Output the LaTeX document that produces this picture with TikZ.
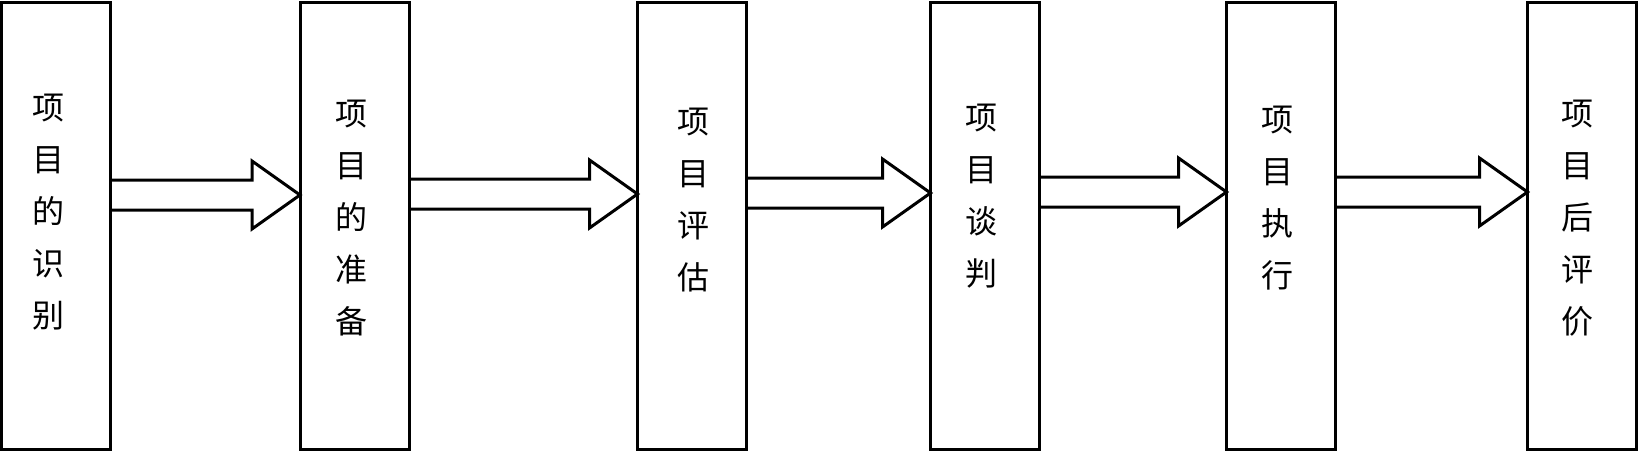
\documentclass[tikz,border=0pt]{standalone}
\usepackage{fontspec}
\newfontfamily\cjk{Noto Sans CJK SC}
\usetikzlibrary{calc}
\tikzset{
  stagebox/.style={draw=black, line width=3pt, outer sep=0pt, inner sep=0pt,
    minimum width=109pt, minimum height=446pt},
  vtext/.style={align=center, inner sep=0pt, font=\cjk\fontsize{32}{52}\selectfont},
  fatarrow/.style={draw=black, line width=3pt, line join=miter}
}
\newcommand{\fatarrowpath}[4]{% from node, to node, y, name
  \path (#1.east |- 0,#3) coordinate (#4s) (#2.west |- 0,#3) coordinate (#4e);
  \draw[fatarrow] ($(#4s)+(0,15)$) -- ($(#4e)+(-48,15)$) -- ($(#4e)+(-48,34)$) -- (#4e)
    -- ($(#4e)+(-48,-34)$) -- ($(#4e)+(-48,-15)$) -- ($(#4s)+(0,-15)$);
}
\begin{document}
\begin{tikzpicture}[x=1pt,y=1pt]
\useasboundingbox (0,0) rectangle (1641,-452);
\node[stagebox] (b1) at (56.25,-226) {};
\node[stagebox] (b2) at (354.5,-226) {};
\node[stagebox] (b3) at (692,-226) {};
\node[stagebox] (b4) at (985,-226) {};
\node[stagebox] (b5) at (1281,-226) {};
\node[stagebox] (b6) at (1582,-226) {};
\node[vtext] (t1) at (48,-212) {项\\目\\的\\识\\别};
\node[vtext] (t2) at (351,-218) {项\\目\\的\\准\\备};
\node[vtext] (t3) at (693,-200) {项\\目\\评\\估};
\node[vtext] (t4) at (981,-196) {项\\目\\谈\\判};
\node[vtext] (t5) at (1277,-198) {项\\目\\执\\行};
\node[vtext] (t6) at (1577,-218) {项\\目\\后\\评\\价};
\fatarrowpath{b1}{b2}{-195}{a1}
\fatarrowpath{b2}{b3}{-194}{a2}
\fatarrowpath{b3}{b4}{-193}{a3}
\fatarrowpath{b4}{b5}{-192}{a4}
\fatarrowpath{b5}{b6}{-192}{a5}
\end{tikzpicture}
\end{document}
